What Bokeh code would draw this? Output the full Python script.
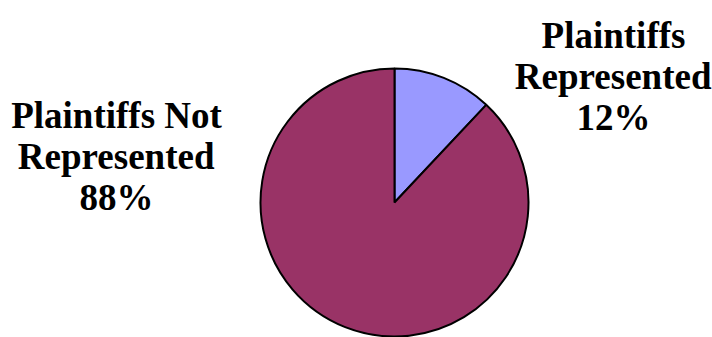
import math
from bokeh.plotting import figure
from bokeh.models import Range1d, ColumnDataSource
from bokeh.core.properties import value
from bokeh.embed import file_html
from bokeh.resources import INLINE

# ---- data ----
categories = ["Plaintiffs Represented", "Plaintiffs Not Represented"]
label_lines = [["Plaintiffs", "Represented"], ["Plaintiffs Not", "Represented"]]
values = [12, 88]
colors = ["#9999FF", "#993366"]

W, H = 712, 337
FONT_PX = 37

# advance widths (1/1000 em) of Liberation Serif Bold, used to centre left-aligned text
ADV = {"P": 611, "l": 278, "a": 500, "i": 278, "n": 556, "t": 333, "f": 333,
       "s": 389, " ": 250, "N": 722, "o": 500, "R": 722, "e": 444, "p": 556,
       "r": 444, "d": 556, "%": 1000}


def text_width(t):
    return sum(ADV.get(c, 500) for c in t) * FONT_PX / 1000.0


def sx(px):
    return px


def sy(py):
    return H - py


p = figure(width=W, height=H, output_backend="svg", toolbar_location=None,
           x_range=Range1d(0, W), y_range=Range1d(0, H), min_border=0)
p.axis.visible = False
p.grid.visible = False
p.outline_line_color = "white"

# labels (drawn first; they do not overlap the pie)
label_pos = [(613, 35), (116, 115)]  # center x, first baseline y (page px)
line_gap = 41
for i, (lx, ly) in enumerate(label_pos):
    lines = label_lines[i] + [f"{values[i]}%"]
    for j, t in enumerate(lines):
        p.text(x=[sx(lx - text_width(t) / 2)], y=[sy(ly + j * line_gap)], text=[t],
               text_font=value("Liberation Serif"), text_font_style="bold",
               text_font_size=f"{FONT_PX}px", text_baseline="alphabetic")

total = sum(values)
starts, ends = [], []
acc = 0.0
for v in values:
    a0 = math.pi / 2 - 2 * math.pi * acc / total
    acc += v
    a1 = math.pi / 2 - 2 * math.pi * acc / total
    starts.append(a0)
    ends.append(a1)

cx, cy, r = 394, 202, 134
src = ColumnDataSource(dict(x=[sx(cx)] * len(values), y=[sy(cy)] * len(values),
                            start=starts, end=ends, color=colors, cat=categories))
p.wedge(x="x", y="y", radius=r, start_angle="start", end_angle="end",
        direction="clock", fill_color="color", line_color="black",
        line_width=2, source=src)

open("out.html", "w").write(file_html(p, INLINE))
